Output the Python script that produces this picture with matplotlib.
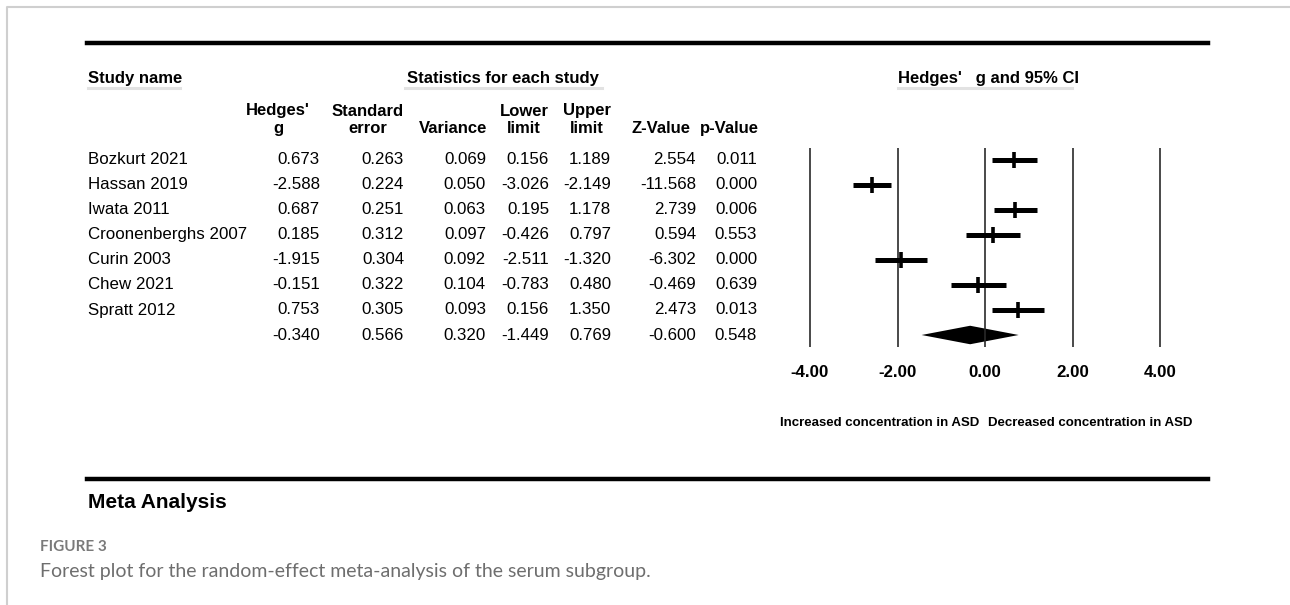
import matplotlib
matplotlib.use('Agg')
import matplotlib.pyplot as plt
from matplotlib.lines import Line2D
import matplotlib.transforms as mtransforms

# Data
studies = ['Bozkurt 2021', 'Hassan 2019', 'Iwata 2011', 'Croonenberghs 2007',
           'Curin 2003', 'Chew 2021', 'Spratt 2012']
hedges_g = [0.673, -2.588, 0.687, 0.185, -1.915, -0.151, 0.753]
std_err = [0.263, 0.224, 0.251, 0.312, 0.304, 0.322, 0.305]
variance = [0.069, 0.050, 0.063, 0.097, 0.092, 0.104, 0.093]
lower = [0.156, -3.026, 0.195, -0.426, -2.511, -0.783, 0.156]
upper = [1.189, -2.149, 1.178, 0.797, -1.320, 0.480, 1.350]
z_value = [2.554, -11.568, 2.739, 0.594, -6.302, -0.469, 2.473]
p_value = [0.011, 0.000, 0.006, 0.553, 0.000, 0.639, 0.013]

# random-effect summary row
summary = dict(g=-0.340, se=0.566, var=0.320, lo=-1.449, hi=0.769, z=-0.600, p=0.548)

x_ticks = [-4, -2, 0, 2, 4]
x_ticklabels = ['-4.00', '-2.00', '0.00', '2.00', '4.00']

W, H = 1290, 605
fig = plt.figure(figsize=(W / 100, H / 100), dpi=100)
fig.patch.set_facecolor('white')

def fx(x):
    return x / W

def fy(y):
    return 1 - y / H

FONT = 'Liberation Sans'
FS = 12.2

# forest axes: -4..4 mapped to 810..1160 px, rows 0..7 at 160..335 px
ppu = (1160 - 810) / 8.0
left_px = 810 - 0.5 * ppu
right_px = 1160 + 0.5 * ppu
top_px, bot_px = 148, 347
ax = fig.add_axes([fx(left_px), fy(bot_px), fx(right_px - left_px), (bot_px - top_px) / H])
ax.set_xlim(-4.5, 4.5)
ax.set_ylim((bot_px - 160) / 25.0, (top_px - 160) / 25.0)
for s in ax.spines.values():
    s.set_visible(False)
ax.set_yticks([])
ax.set_xticks(x_ticks)
ax.set_xticklabels(x_ticklabels, fontfamily=FONT, fontsize=12.2, fontweight='bold')
ax.tick_params(axis='x', length=0, pad=13)
ax.patch.set_alpha(0)

for t in x_ticks:
    ax.axvline(t, color='#2a2a2a', lw=1.2)

rows = list(range(len(studies)))
for i in rows:
    ax.plot([lower[i], upper[i]], [i, i], color='black', lw=3.6, solid_capstyle='butt')
    ax.plot(hedges_g[i], i, marker='|', color='black', markersize=11.5, mew=2.6)

srow = len(studies)
ax.fill([summary['lo'], summary['g'], summary['hi'], summary['g']],
        [srow, srow - 0.37, srow, srow + 0.37], color='black', lw=0)

# table text, rows aligned with the forest axes
trans = mtransforms.blended_transform_factory(fig.transFigure, ax.transData)
col_right = [320, 404, 486, 549, 611, 696, 757]
for i in rows:
    fig.text(fx(88), i, studies[i], transform=trans, ha='left', va='center',
             fontfamily=FONT, fontsize=FS)
    vals = [hedges_g[i], std_err[i], variance[i], lower[i], upper[i], z_value[i], p_value[i]]
    for xr, v in zip(col_right, vals):
        fig.text(fx(xr), i, f'{v:.3f}', transform=trans, ha='right', va='center',
                 fontfamily=FONT, fontsize=FS)
svals = [summary['g'], summary['se'], summary['var'], summary['lo'], summary['hi'],
         summary['z'], summary['p']]
for xr, v in zip(col_right, svals):
    fig.text(fx(xr), srow, f'{v:.3f}', transform=trans, ha='right', va='center',
             fontfamily=FONT, fontsize=FS)

# headers
hdr = dict(fontfamily=FONT, fontsize=12, fontweight='bold', va='center')
fig.text(fx(88), fy(78), 'Study name', ha='left', **hdr)
fig.text(fx(503), fy(78), 'Statistics for each study', ha='center', **hdr)
fig.text(fx(988), fy(78), "Hedges'   g and 95% CI", ha='center', **hdr)
col_hdr = [(278, "Hedges'", 'g'), (368, 'Standard', 'error'), (453, '', 'Variance'),
           (524, 'Lower', 'limit'), (587, 'Upper', 'limit'), (661, '', 'Z-Value'),
           (729, '', 'p-Value')]
for xc, l1, l2 in col_hdr:
    if l1:
        fig.text(fx(xc), fy(111), l1, ha='center', **hdr)
    fig.text(fx(xc), fy(128), l2, ha='center', **hdr)

# light underlines of the group headers
for x0, x1 in [(88, 180), (405, 602), (898, 1072)]:
    fig.add_artist(Line2D([fx(x0), fx(x1)], [fy(88), fy(88)], color='#e2e2e2', lw=2.2))

# direction labels
fig.text(fx(979), fy(423), 'Increased concentration in ASD', ha='right', va='center',
         fontfamily=FONT, fontsize=9.5, fontweight='bold')
fig.text(fx(988), fy(423), 'Decreased concentration in ASD', ha='left', va='center',
         fontfamily=FONT, fontsize=9.5, fontweight='bold')

# thick rules
for y in (43, 479):
    fig.add_artist(Line2D([fx(87), fx(1208)], [fy(y), fy(y)], color='black', lw=3.2))

fig.text(fx(88), fy(502), 'Meta Analysis', ha='left', va='center',
         fontfamily=FONT, fontsize=15, fontweight='bold')

# outer frame (left and top edges)
fig.add_artist(Line2D([fx(7), fx(7), fx(W)], [0, fy(7), fy(7)], color='#cfcfcf', lw=1.5))

fig.text(fx(40), fy(547), 'FIGURE 3', ha='left', va='center',
         fontfamily='Lato', fontsize=11, fontweight='bold', color='#7a7a7a')
fig.text(fx(40), fy(572), 'Forest plot for the random-effect meta-analysis of the serum subgroup.',
         ha='left', va='center', fontfamily='Lato', fontsize=14, color='#6e6e6e')

fig.savefig('out.png', dpi=100)
